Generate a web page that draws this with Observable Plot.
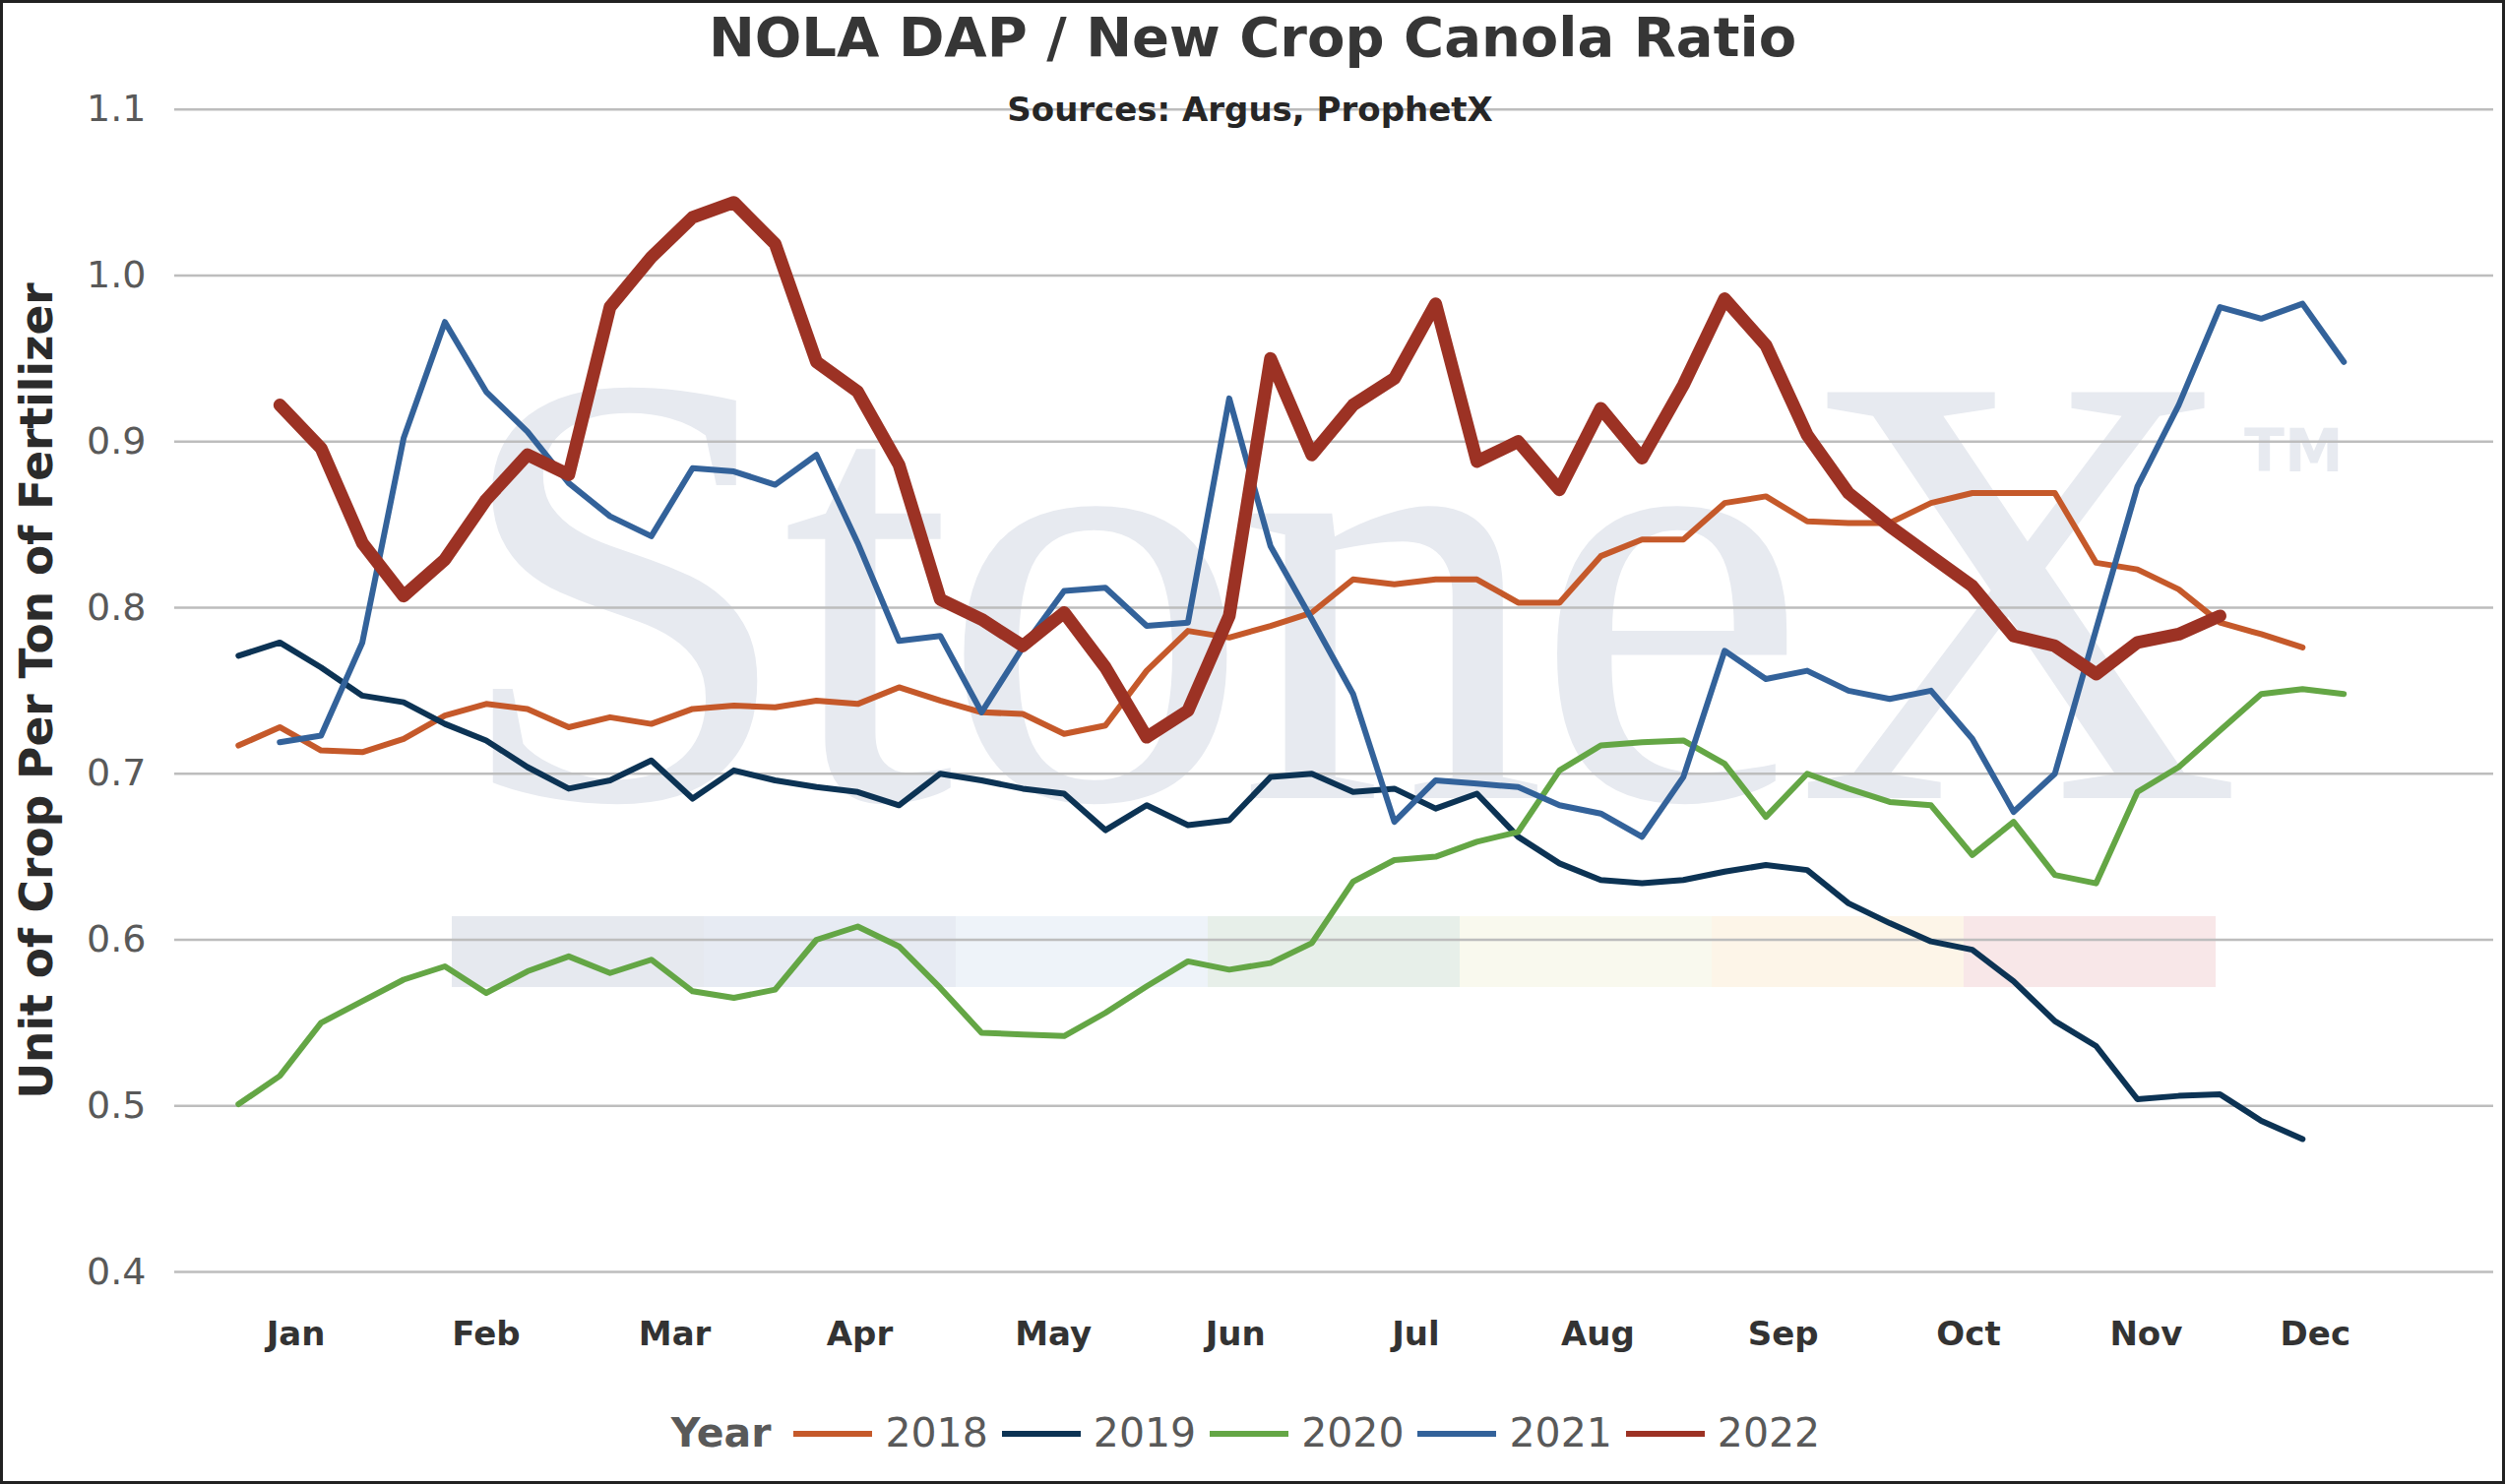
<!DOCTYPE html>
<html>
<head>
<meta charset="utf-8">
<script src="https://cdn.jsdelivr.net/npm/d3@7"></script>
<script src="https://cdn.jsdelivr.net/npm/@observablehq/plot@0.6"></script>
<style>
  body { margin: 0; background: #fff; }
  #chart { position: relative; width: 2545px; height: 1508px; background: #fff; overflow: hidden; font-family: "DejaVu Sans", Verdana, sans-serif; }
  .abs { position: absolute; line-height: 1; white-space: nowrap; }
  #frame { position: absolute; left: 0; top: 0; width: 2545px; height: 1508px; box-sizing: border-box; border: 3px solid #222; pointer-events: none; z-index: 10; }
  #title { left: 0; width: 2545px; top: 10px; text-align: center; font-size: 56px; font-weight: bold; color: #363636; z-index: 3; }
  #subtitle { left: 0; width: 2540px; top: 94px; text-align: center; font-size: 34px; font-weight: bold; color: #262626; z-index: 3; }
  #ytitle { width: 1000px; height: 46px; left: -462px; top: 679px; text-align: center; font-size: 45.5px; font-weight: bold; color: #2b2b2b; transform: rotate(-90deg); transform-origin: 50% 50%; z-index: 3; }
  #wm { left: 458px; top: 284px; font-family: "Liberation Serif", serif; font-size: 630px; color: #e7eaf0; letter-spacing: -14px; z-index: 0; }
  #tm { left: 2280px; top: 428px; font-size: 60px; font-weight: bold; color: #e7eaf0; z-index: 0; }
  #band { left: 459px; top: 931px; height: 72px; display: flex; z-index: 0; }
  #band div { width: 256px; height: 72px; }
  #plot { position: absolute; left: 0; top: 0; z-index: 2; }
  #legend { left: 0; width: 2545px; top: 1436px; display: flex; justify-content: center; align-items: center; font-size: 41px; color: #595959; z-index: 3; }
  #legend .lab { margin-right: 14px; }
  #legend .sw { width: 80px; height: 6px; margin-right: 13px; }
</style>
</head>
<body>
<div id="chart">
  <div id="wm" class="abs">StoneX</div>
  <div id="tm" class="abs">TM</div>
  <div id="band" class="abs"></div>
  <div id="plot"></div>
  <div id="title" class="abs">NOLA DAP / New Crop Canola Ratio</div>
  <div id="subtitle" class="abs">Sources: Argus, ProphetX</div>
  <div id="ytitle" class="abs">Unit of Crop Per Ton of Fertilizer</div>
  <div id="legend" class="abs"></div>
  <div id="frame"></div>
</div>
<script>
// ---- data (weekly points, index 0..51) ----
const years = ["2018", "2019", "2020", "2021", "2022"];
const colors = ["#C5592A", "#0C3354", "#64A645", "#33629A", "#9C3224"];
const widths = [6, 6, 6, 6, 13];

const v2018 = [0.717,0.728,0.714,0.713,0.721,0.735,0.742,0.739,0.728,0.734,0.730,0.739,0.741,0.740,0.744,0.742,0.752,0.744,0.737,0.736,0.724,0.729,0.762,0.786,0.782,0.789,0.797,0.817,0.814,0.817,0.817,0.803,0.803,0.831,0.841,0.841,0.863,0.867,0.852,0.851,0.851,0.863,0.869,0.869,0.869,0.827,0.823,0.811,0.791,0.784,0.776,null];
const v2019 = [0.771,0.779,0.764,0.747,0.743,0.730,0.720,0.704,0.691,0.696,0.708,0.685,0.702,0.696,0.692,0.689,0.681,0.700,0.696,0.691,0.688,0.666,0.681,0.669,0.672,0.698,0.700,0.689,0.691,0.679,0.688,0.662,0.646,0.636,0.634,0.636,0.641,0.645,0.642,0.622,0.610,0.599,0.594,0.575,0.551,0.536,0.504,0.506,0.507,0.491,0.480,null];
const v2020 = [0.501,0.518,0.550,0.563,0.576,0.584,0.568,0.581,0.590,0.580,0.588,0.569,0.565,0.570,0.600,0.608,0.596,0.571,0.544,0.543,0.542,0.556,0.572,0.587,0.582,0.586,0.598,0.635,0.648,0.650,0.659,0.665,0.702,0.717,0.719,0.720,0.706,0.674,0.700,0.691,0.683,0.681,0.651,0.671,0.639,0.634,0.689,0.704,0.726,0.748,0.751,0.748];
const v2021 = [null,0.719,0.723,0.779,0.902,0.972,0.930,0.906,0.875,0.855,0.843,0.884,0.882,0.874,0.892,0.839,0.780,0.783,0.737,0.776,0.810,0.812,0.789,0.791,0.926,0.837,0.793,0.748,0.671,0.696,0.694,0.692,0.681,0.676,0.662,0.698,0.774,0.757,0.762,0.750,0.745,0.750,0.721,0.677,0.700,0.787,0.873,0.922,0.981,0.974,0.983,0.948];
const v2022 = [null,0.922,0.896,0.839,0.807,0.829,0.865,0.892,0.880,0.981,1.011,1.035,1.044,1.019,0.948,0.930,0.886,0.805,0.793,0.777,0.797,0.764,0.722,0.738,0.795,0.950,0.892,0.922,0.938,0.983,0.888,0.900,0.871,0.920,0.890,0.934,0.986,0.958,0.904,0.869,0.849,0.831,0.813,0.783,0.777,0.760,0.779,0.784,0.795,null,null,null];

const months = ["Jan","Feb","Mar","Apr","May","Jun","Jul","Aug","Sep","Oct","Nov","Dec"];
const monthWeeks = [1.39,6.00,10.57,15.05,19.74,24.15,28.52,32.93,37.42,41.91,46.21,50.31];
const yTicks = [0.4,0.5,0.6,0.7,0.8,0.9,1.0,1.1];

const bandColors = ["#e6e9ef","#e7ebf3","#eef3f9","#e7efe9","#f9f9ee","#fdf5e8","#f8e7e8"];

// ---- build rows ----
const seriesVals = [v2018, v2019, v2020, v2021, v2022];
const rows = [];
seriesVals.forEach((arr, s) => arr.forEach((v, i) => {
  if (v != null) rows.push({year: years[s], week: i, value: v});
}));

const chart = Plot.plot({
  width: 2545,
  height: 1400,
  marginTop: 110.7,
  marginBottom: 108,
  marginLeft: 177,
  marginRight: 12,
  x: {domain: [-1.545, 54.63]},
  y: {domain: [0.4, 1.1]},
  style: {fontFamily: "'DejaVu Sans', Verdana, sans-serif", background: "transparent", overflow: "visible"},
  marks: [
    Plot.gridY(yTicks, {stroke: "#bdbdbd", strokeOpacity: 1, strokeWidth: 2.5}),
    Plot.axisY(yTicks, {tickSize: 0, tickPadding: 29, fontSize: 38, color: "#595959", tickFormat: d => d.toFixed(1), label: null}),
    Plot.axisX(monthWeeks, {tickSize: 0, tickPadding: 50, fontSize: 34, fontWeight: "bold", color: "#333333", tickFormat: d => months[monthWeeks.indexOf(d)], label: null}),
    ...years.map((y, s) => Plot.line(rows.filter(d => d.year === y), {
      x: "week", y: "value", stroke: colors[s], strokeWidth: widths[s],
      strokeLinejoin: "round", strokeLinecap: "round"
    }))
  ]
});
document.getElementById("plot").appendChild(chart);

// watermark band
const band = document.getElementById("band");
bandColors.forEach(c => { const d = document.createElement("div"); d.style.background = c; band.appendChild(d); });

// legend
const legend = document.getElementById("legend");
const yl = document.createElement("span");
yl.textContent = "Year"; yl.style.fontWeight = "bold"; yl.style.marginRight = "23px";
legend.appendChild(yl);
years.forEach((y, s) => {
  const sw = document.createElement("span"); sw.className = "sw"; sw.style.background = colors[s];
  const lb = document.createElement("span"); lb.className = "lab"; lb.textContent = y;
  legend.appendChild(sw); legend.appendChild(lb);
});
</script>
</body>
</html>
